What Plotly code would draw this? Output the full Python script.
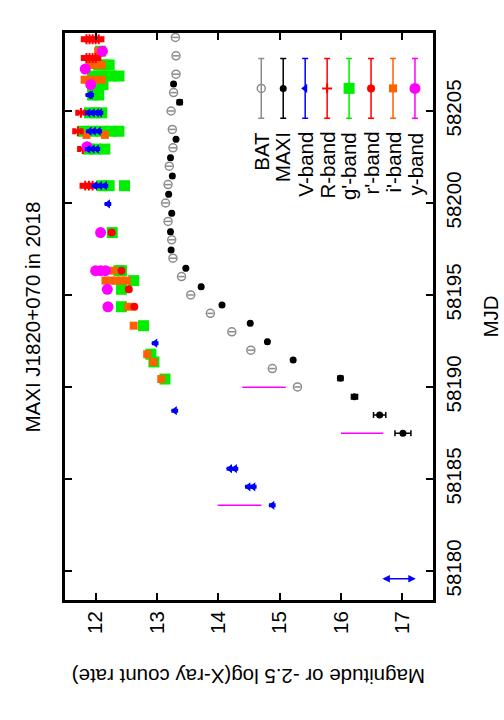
'''
    MAXI J1820+070 light curve in 2018, drawn in the rotated (landscape)
    orientation: magnitude runs left to right, MJD runs bottom to top.
'''

import plotly.graph_objects as go

FONT = 'Liberation Sans, Arial, sans-serif'
FSIZE = 20.5

# ---- data -------------------------------------------------------------
bat_mjd = [58190, 58191, 58192, 58193, 58194, 58195, 58196, 58197, 58198, 58199,
           58200, 58201, 58202, 58203, 58204, 58205, 58206, 58207, 58208, 58209]
bat_mag = [15.29, 14.88, 14.53, 14.22, 13.87, 13.55, 13.40, 13.26, 13.24, 13.18,
           13.14, 13.18, 13.20, 13.26, 13.25, 13.23, 13.27, 13.31, 13.31, 13.30]

maxi_mjd = [58187.48, 58188.48, 58189.47, 58190.47, 58191.47, 58192.46, 58193.46,
            58194.46, 58195.45, 58196.45, 58197.45, 58198.44, 58199.44, 58200.47,
            58201.47, 58202.46, 58203.46, 58205.47, 58206.47]
maxi_mag = [17.01, 16.63, 16.22, 15.99, 15.22, 14.80, 14.52, 14.06, 13.72, 13.47,
            13.23, 13.22, 13.24, 13.19, 13.25, 13.22, 13.31, 13.37, 13.27]
maxi_err = [0.13, 0.10, 0.05, 0.04, 0.02, 0.02, 0.02, 0.02, 0.02, 0.02,
            0.02, 0.02, 0.02, 0.02, 0.02, 0.02, 0.02, 0.04, 0.02]

v_mjd = [58183.57, 58184.57, 58184.57, 58185.56, 58185.56, 58188.71, 58192.38,
         58199.95, 58200.94, 58200.94, 58200.94, 58202.93, 58202.93, 58202.93,
         58203.90, 58203.90, 58203.90, 58204.90, 58204.90, 58204.90, 58204.90,
         58205.87, 58205.87]
v_mag = [14.88, 14.49, 14.57, 14.19, 14.27, 13.29, 12.97,
         12.20, 11.99, 12.07, 12.15, 11.88, 11.95, 12.02,
         11.90, 11.97, 12.05, 11.88, 11.95, 12.02, 12.07,
         11.89, 11.92]

# V-band range shown as a double arrow at the start
v_arrow_mjd = [58179.57]
v_arrow_mag = [16.65, 17.22]

r_mjd = [58200.94, 58200.94, 58200.94, 58202.93, 58203.90, 58204.90,
         58207.88, 58207.88, 58207.88, 58207.88,
         58208.90, 58208.90, 58208.90, 58208.90, 58208.90]
r_mag = [11.83, 11.89, 11.95, 11.79, 11.71, 11.76,
         11.85, 11.90, 11.95, 12.00,
         11.85, 11.90, 11.95, 12.00, 12.05]

gp_mjd = [58190.43, 58191.36, 58191.78, 58193.33, 58194.36, 58195.31, 58195.78,
          58196.32, 58196.32, 58198.39, 58200.94, 58200.94, 58200.94,
          58202.93, 58202.93, 58202.93, 58203.90, 58203.90, 58203.90, 58203.90,
          58203.90, 58204.90, 58204.90, 58204.90, 58205.87, 58205.87,
          58206.43, 58206.43, 58206.43, 58206.90, 58206.90, 58206.90, 58206.90,
          58207.50, 58207.50, 58207.50, 58208.25]
gp_mag = [13.13, 12.95, 12.90, 12.78, 12.42, 12.42, 12.62,
          12.38, 12.42, 12.27, 12.10, 12.22, 12.47,
          11.88, 12.00, 12.15, 11.80, 11.95, 12.10, 12.25,
          12.38, 11.90, 12.00, 12.10, 11.95, 12.05,
          11.95, 12.05, 12.12, 11.95, 12.10, 12.25, 12.38,
          12.05, 12.15, 12.22, 12.08]

rp_mjd = [58194.36, 58195.31, 58196.32, 58198.39]
rp_mag = [12.63, 12.54, 12.42, 12.26]

ip_mjd = [58190.43, 58191.36, 58191.78, 58193.33, 58194.36, 58195.78, 58195.78,
          58195.78, 58195.78, 58195.78, 58196.32, 58203.70, 58203.70,
          58206.70, 58206.70, 58206.70, 58206.70, 58207.50, 58207.50, 58207.50,
          58208.25]
ip_mag = [13.07, 12.94, 12.84, 12.62, 12.53, 12.16, 12.25,
          12.33, 12.42, 12.51, 12.29, 11.85, 12.15,
          11.82, 11.90, 12.00, 12.10, 11.90, 12.00, 12.10,
          12.04]

y_mjd = [58194.36, 58195.31, 58196.32, 58196.32, 58196.32, 58198.39,
         58203.06, 58206.43, 58207.28, 58208.25]
y_mag = [12.20, 12.19, 12.00, 12.08, 12.16, 12.08,
         11.86, 11.92, 11.83, 12.11]

# magenta bars without legend entry
bar_mjd = [58183.57, 58187.48, 58189.98]
bar_mag_lo = [13.99, 16.00, 14.39]
bar_mag_hi = [14.70, 16.69, 15.10]

mag_ticks = [12, 13, 14, 15, 16, 17]
mjd_ticks = [58180, 58185, 58190, 58195, 58200, 58205]

legend_names = ['BAT', 'MAXI', 'V-band', 'R-band', "g'-band", "r'-band", "i'-band", 'y-band']

GREY = '#8c8c8c'
BLUE = '#0000ff'
RED = '#ff0000'
GREEN = '#00ee00'
ORANGE = '#ff6000'
MAGENTA = '#ff00ff'

# marker style per series, same order as legend_names
styles = [
    dict(symbol='circle-open', size=8, color=GREY, line=dict(width=1.5, color=GREY)),
    dict(symbol='circle', size=7, color='black'),
    dict(symbol='triangle-left', size=8, color=BLUE),
    dict(symbol='cross-thin', size=7, color=RED, line=dict(width=2, color=RED)),
    dict(symbol='square', size=11, color=GREEN),
    dict(symbol='circle', size=8, color=RED),
    dict(symbol='square', size=8, color=ORANGE),
    dict(symbol='circle', size=11, color=MAGENTA),
]
colors = [GREY, 'black', BLUE, RED, GREEN, RED, ORANGE, MAGENTA]

fig = go.Figure()

# green first so the other bands sit on top, as in the original
fig.add_trace(go.Scatter(x=gp_mag, y=gp_mjd, mode='markers', marker=styles[4],
                         error_x=dict(type='constant', value=0.03, color=GREEN,
                                      thickness=1.5, width=3)))
fig.add_trace(go.Scatter(x=ip_mag, y=ip_mjd, mode='markers', marker=styles[6]))
fig.add_trace(go.Scatter(x=rp_mag, y=rp_mjd, mode='markers', marker=styles[5]))
fig.add_trace(go.Scatter(x=r_mag, y=r_mjd, mode='markers', marker=styles[3],
                         error_x=dict(type='constant', value=0.06, color=RED,
                                      thickness=4, width=3)))
fig.add_trace(go.Scatter(x=y_mag, y=y_mjd, mode='markers', marker=styles[7]))
fig.add_trace(go.Scatter(x=v_mag, y=v_mjd, mode='markers', marker=styles[2],
                         error_x=dict(type='constant', value=0.03, color=BLUE,
                                      thickness=3, width=2)))

# magenta bars
bx, by = [], []
for m, lo, hi in zip(bar_mjd, bar_mag_lo, bar_mag_hi):
    bx += [lo, hi, None]
    by += [m, m, None]
fig.add_trace(go.Scatter(x=bx, y=by, mode='lines', line=dict(color=MAGENTA, width=1.5)))

fig.add_trace(go.Scatter(x=maxi_mag, y=maxi_mjd, mode='markers', marker=styles[1],
                         error_x=dict(type='data', array=maxi_err, color='black',
                                      thickness=1.5, width=3)))
fig.add_trace(go.Scatter(x=bat_mag, y=bat_mjd, mode='markers', marker=styles[0],
                         error_x=dict(type='constant', value=0.05, color=GREY,
                                      thickness=1.5, width=0)))

# V-band double arrow
fig.add_annotation(x=v_arrow_mag[1], y=v_arrow_mjd[0], ax=v_arrow_mag[0], ay=v_arrow_mjd[0],
                   xref='x', yref='y', axref='x', ayref='y', text='', showarrow=True,
                   arrowhead=2, arrowside='end+start', arrowsize=1, arrowwidth=1.5,
                   arrowcolor=BLUE)

# hand-made legend, drawn rotated like the rest of the figure
LEG_X0, LEG_DX = 14.70, 0.358
LEG_MID, LEG_HALF, LEG_TEXT = 58206.23, 1.62, 58203.97
for i, name in enumerate(legend_names):
    lx = LEG_X0 + i * LEG_DX
    fig.add_trace(go.Scatter(x=[lx], y=[LEG_MID], mode='markers', marker=styles[i],
                             error_y=dict(type='constant', value=LEG_HALF, color=colors[i],
                                          thickness=1.5, width=3)))
    fig.add_annotation(x=lx, y=LEG_TEXT, xref='x', yref='y', text=name, showarrow=False,
                       textangle=-90, xanchor='center', yanchor='top',
                       font=dict(family=FONT, size=FSIZE, color='black'))

# titles (explicit anchors, otherwise plotly picks left/right/bottom)
fig.add_annotation(x=-0.087, y=0.5, xref='paper', yref='paper', text='MAXI J1820+070 in 2018',
                   showarrow=False, textangle=-90, xanchor='center', yanchor='middle',
                   font=dict(family=FONT, size=FSIZE, color='black'))
fig.add_annotation(x=1.155, y=0.5, xref='paper', yref='paper', text='MJD',
                   showarrow=False, textangle=-90, xanchor='center', yanchor='middle',
                   font=dict(family=FONT, size=FSIZE, color='black'))
fig.add_annotation(x=0.5, y=-0.136, xref='paper', yref='paper',
                   text='Magnitude or -2.5 log(X-ray count rate)',
                   showarrow=False, textangle=180, xanchor='center', yanchor='middle',
                   font=dict(family=FONT, size=FSIZE, color='black'))

axis_style = dict(showline=True, linewidth=3, linecolor='black', mirror='allticks',
                  ticks='inside', ticklen=7, tickwidth=2, tickcolor='black',
                  showgrid=False, zeroline=False, tickangle=-90,
                  tickfont=dict(family=FONT, size=FSIZE, color='black'))

fig.update_xaxes(range=[11.5, 17.5], tickvals=mag_ticks, **axis_style)
fig.update_yaxes(range=[58178.42, 58209.24], tickvals=mjd_ticks, tickformat='d',
                 side='right', **axis_style)

fig.update_layout(width=504, height=720, showlegend=False,
                  margin=dict(l=65, r=71, t=33, b=120),
                  plot_bgcolor='white', paper_bgcolor='white',
                  font=dict(family=FONT, size=FSIZE, color='black'))

# drop the browser's default 8px body margin so the figure fills the window
fig.write_html('out.html', config={'displayModeBar': False},
               post_script="document.body.style.margin='0';document.body.style.overflow='hidden';")
